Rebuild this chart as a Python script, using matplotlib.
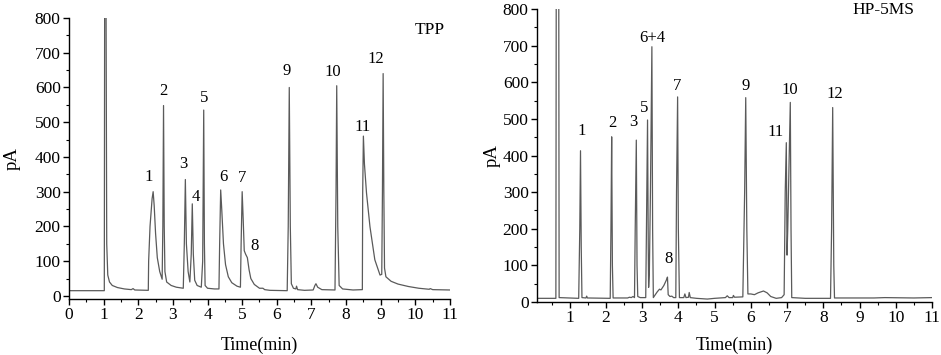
import matplotlib
matplotlib.use("Agg")
import matplotlib.pyplot as plt
from matplotlib.ticker import MultipleLocator

plt.rcParams['font.family'] = ['Liberation Serif', 'DejaVu Serif']

# TPP column trace (time in min, signal in pA)
tpp_t = [0, 1.02, 1.03, 1.07, 1.09, 1.12, 1.17, 1.25, 1.4, 1.6, 1.8, 1.85, 1.9, 2.29,
         2.30, 2.34, 2.40, 2.43, 2.46, 2.50, 2.55, 2.62, 2.69, 2.71, 2.73, 2.75, 2.77,
         2.82, 2.95, 3.1, 3.3, 3.33, 3.36, 3.39, 3.44, 3.49, 3.53, 3.56, 3.59, 3.63,
         3.7, 3.82, 3.86, 3.89, 3.91, 3.93, 4.0, 4.2, 4.33, 4.35, 4.38, 4.41, 4.46,
         4.52, 4.6, 4.7, 4.85, 4.95, 4.97, 5.0, 5.03, 5.06, 5.1, 5.15, 5.2, 5.25, 5.35,
         5.5, 5.6, 5.65, 5.8, 6.3, 6.33, 6.36, 6.39, 6.42, 6.48, 6.55, 6.57, 6.6, 6.8,
         7.05, 7.1, 7.13, 7.18, 7.3, 7.68, 7.71, 7.73, 7.76, 7.8, 7.9, 8.2, 8.47, 8.48,
         8.5, 8.53, 8.59, 8.69, 8.83, 8.98, 9.03, 9.05, 9.07, 9.09, 9.11, 9.15, 9.3,
         9.5, 9.8, 10.1, 10.4, 10.43, 10.5, 11.0]
tpp_pa = [15, 15, 850, 850, 150, 60, 40, 30, 24, 20, 18, 21, 17, 16,
          100, 200, 280, 300, 260, 180, 110, 70, 48, 200, 548, 200, 70,
          40, 30, 25, 22, 150, 335, 150, 70, 40, 120, 265, 120, 45,
          30, 25, 100, 535, 150, 30, 22, 20, 20, 150, 305, 250, 150,
          90, 55, 38, 28, 25, 150, 300, 220, 130, 120, 110, 75, 50, 33,
          22, 22, 18, 16, 15, 200, 600, 200, 35, 22, 20, 28, 18, 16,
          17, 30, 35, 25, 18, 17, 300, 605, 200, 30, 20, 17, 18, 300,
          460, 380, 296, 199, 104, 60, 62, 300, 640, 300, 80, 55, 42,
          34, 27, 22, 19, 21, 18, 17]

# HP-5MS column trace
hp_t = [0.1, 0.62, 0.63, 0.70, 0.71, 1.25, 1.28, 1.30, 1.32, 1.34, 1.45, 1.47, 1.49,
        2.12, 2.14, 2.16, 2.18, 2.2, 2.6, 2.65, 2.7, 2.75, 2.79, 2.81, 2.84, 2.86,
        2.88, 2.95, 3.1, 3.12, 3.15, 3.17, 3.18, 3.2, 3.23, 3.27, 3.29, 3.31, 3.35,
        3.42, 3.48, 3.52, 3.6, 3.67, 3.7, 3.72, 3.77, 3.82, 3.87, 3.93, 3.95, 3.98,
        4.0, 4.03, 4.15, 4.18, 4.21, 4.28, 4.3, 4.33, 4.5, 4.8, 5.0, 5.3, 5.35, 5.4,
        5.5, 5.52, 5.55, 5.78, 5.83, 5.86, 5.89, 5.92, 6.0, 6.1, 6.2, 6.35, 6.45,
        6.55, 6.7, 6.85, 6.92, 6.95, 6.98, 7.0, 7.02, 7.06, 7.09, 7.11, 7.13, 7.5,
        8.2, 8.23, 8.26, 8.29, 8.31, 9.4, 9.7, 10.5, 11.0]
hp_pa = [10, 10, 850, 850, 12, 10, 200, 413, 150, 12, 11, 16, 11,
         10, 200, 451, 100, 11, 11, 13, 12, 15, 12, 200, 442, 100,
         15, 12, 12, 200, 497, 150, 40, 80, 300, 697, 200, 12, 18,
         28, 35, 33, 45, 60, 68, 20, 15, 16, 12, 12, 300, 560,
         200, 12, 12, 22, 12, 13, 26, 12, 10, 8, 10, 12, 17, 12,
         12, 18, 13, 14, 300, 558, 200, 22, 22, 20, 25, 30, 25,
         15, 10, 12, 20, 300, 435, 128, 200, 400, 545, 200, 12, 10,
         10, 200, 531, 100, 11, 11, 12, 11, 12]

# peak labels: text, time, pA
tpp_labels = ['1', '2', '3', '4', '5', '6', '7', '8', '9', '10', '11', '12']
tpp_lab_t = [2.31, 2.72, 3.31, 3.65, 3.89, 4.45, 5.01, 5.35, 6.28, 7.63, 8.48, 8.86]
tpp_lab_pa = [343, 591, 379, 286, 571, 343, 338, 144, 648, 644, 485, 683]

hp_labels = ['1', '2', '3', '5', '6+4', '7', '8', '9', '10', '11', '12']
hp_lab_t = [1.32, 2.17, 2.77, 3.06, 3.27, 3.96, 3.73, 5.85, 7.09, 6.68, 8.31]
hp_lab_pa = [467, 489, 491, 530, 722, 590, 118, 590, 579, 463, 569]

line_col = '#5a5a5a'

fig = plt.figure(figsize=(9.41, 3.55), dpi=100)
ax1 = fig.add_axes([0.0733, 0.1577, 0.4049, 0.7916])
ax2 = fig.add_axes([0.5707, 0.1493, 0.4197, 0.8253])


def style(ax, xlim, ylim):
    ax.set_xlim(*xlim)
    ax.set_ylim(*ylim)
    for s in ['top', 'right']:
        ax.spines[s].set_visible(False)
    for s in ['left', 'bottom']:
        ax.spines[s].set_linewidth(1.0)
    ax.xaxis.set_major_locator(MultipleLocator(1))
    ax.xaxis.set_minor_locator(MultipleLocator(0.5))
    ax.yaxis.set_major_locator(MultipleLocator(100))
    ax.yaxis.set_minor_locator(MultipleLocator(50))
    ax.tick_params(which='major', direction='out', length=4, width=1, labelsize=12.5, pad=2)
    ax.tick_params(which='minor', direction='out', length=2.5, width=0.8)
    ax.set_xlabel('Time(min)', fontsize=13)
    ax.set_ylabel('pA', fontsize=13.5)


# 左图 TPP
ax1.plot(tpp_t, tpp_pa, color=line_col, lw=0.9)
style(ax1, (0, 11), (-9, 800))
for s, x, y in zip(tpp_labels, tpp_lab_t, tpp_lab_pa):
    ax1.text(x, y, s, ha='center', va='center', fontsize=12)
ax1.text(10.42, 766, 'TPP', ha='center', va='center', fontsize=12.5)
ax1.xaxis.set_label_coords(0.5, -0.135)
ax1.yaxis.set_label_coords(-0.126, 0.5)

# 右图 HP-5MS
ax2.plot(hp_t, hp_pa, color=line_col, lw=0.9)
style(ax2, (0.1, 11), (0, 800))
for s, x, y in zip(hp_labels, hp_lab_t, hp_lab_pa):
    ax2.text(x, y, s, ha='center', va='center', fontsize=12)
ax2.text(9.67, 796, 'HP-5MS', ha='center', va='center', fontsize=12.5)
ax2.xaxis.set_label_coords(0.5, -0.12)
ax2.yaxis.set_label_coords(-0.091, 0.5)

fig.savefig('out.png', dpi=100)
